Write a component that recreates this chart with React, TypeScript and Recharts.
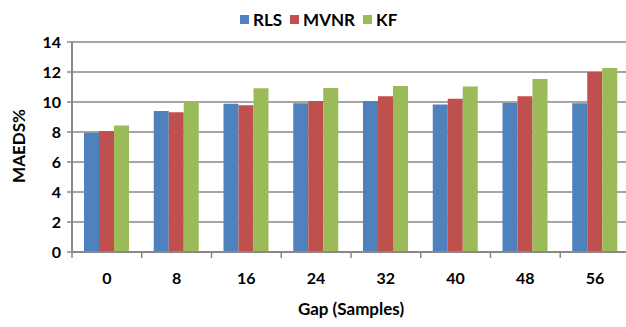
import { BarChart, Bar, XAxis, YAxis, CartesianGrid } from 'recharts'

const gaps = ['0', '8', '16', '24', '32', '40', '48', '56']
const rls = [7.95, 9.4, 9.89, 9.91, 10.07, 9.84, 9.93, 9.91]
const mvnr = [8.07, 9.31, 9.78, 10.07, 10.38, 10.22, 10.38, 12.0]
const kf = [8.44, 9.99, 10.91, 10.93, 11.07, 11.04, 11.53, 12.27]
const yTicks = [0, 2, 4, 6, 8, 10, 12, 14]

const SERIES = [
  { key: 'RLS', values: rls, color: '#4F81BD' },
  { key: 'MVNR', values: mvnr, color: '#C0504D' },
  { key: 'KF', values: kf, color: '#9BBB59' },
]

const FONT = 'Lato, "Open Sans", sans-serif'
const GRAY = '#888888'
const X_TICK_MARGIN = 21

const data = gaps.map((gap, i) => ({
  gap,
  RLS: rls[i],
  MVNR: mvnr[i],
  KF: kf[i],
}))

// label at the center, tick mark on the left boundary (excel style)
function GapTick(props: any) {
  const { x, y, payload } = props
  const half = payload && payload.offset ? payload.offset : 34.875
  const axisY = y - X_TICK_MARGIN
  return (
    <g>
      <line x1={x - half} x2={x - half} y1={axisY} y2={axisY + 6} stroke={GRAY} strokeWidth={1.5} />
      <text
        x={x}
        y={y}
        dy="0.71em"
        textAnchor="middle"
        style={{ fill: '#000', fontFamily: FONT, fontWeight: 700, fontSize: 16 }}
      >
        {payload.value}
      </text>
    </g>
  )
}

function ChartLegend() {
  return (
    <div
      style={{
        position: 'absolute',
        top: 9,
        left: 240,
        display: 'flex',
        alignItems: 'center',
        fontFamily: FONT,
        fontWeight: 700,
        fontSize: 17,
        color: '#000',
      }}
    >
      {SERIES.map((s) => (
        <div key={s.key} style={{ display: 'flex', alignItems: 'center', marginRight: 8 }}>
          <span style={{ width: 9, height: 9, background: s.color, marginRight: 4, display: 'inline-block' }} />
          <span>{s.key}</span>
        </div>
      ))}
    </div>
  )
}

export default function App() {
  return (
    <div style={{ position: 'absolute', left: 0, top: 0, width: 626, height: 327, overflow: 'hidden', background: '#fff' }}>
      <ChartLegend />
      <BarChart
        width={632}
        height={327}
        data={data}
        margin={{ top: 42, right: 2, bottom: 0, left: 0 }}
        barCategoryGap={12}
        barGap={0}
      >
        <CartesianGrid vertical={false} stroke={GRAY} strokeWidth={1.5} />
        <XAxis
          dataKey="gap"
          tickLine={false}
          axisLine={{ stroke: GRAY, strokeWidth: 2 }}
          tickSize={0}
          tickMargin={X_TICK_MARGIN}
          tick={<GapTick />}
          height={75}
          label={{
            value: 'Gap (Samples)',
            position: 'insideBottom',
            offset: 12,
            style: { fill: '#000', fontFamily: FONT, fontWeight: 700, fontSize: 17 },
          }}
        />
        <YAxis
          domain={[0, 14]}
          ticks={yTicks}
          width={72}
          tickSize={5}
          tickMargin={6}
          axisLine={{ stroke: GRAY, strokeWidth: 2 }}
          tickLine={{ stroke: GRAY, strokeWidth: 1.5 }}
          tick={{ fill: '#000', fontFamily: FONT, fontWeight: 700, fontSize: 16 }}
          label={{
            content: () => (
              <text
                x={18}
                y={146}
                transform="rotate(-90 18 146)"
                textAnchor="middle"
                dominantBaseline="central"
                style={{ fill: '#000', fontFamily: FONT, fontWeight: 700, fontSize: 17 }}
              >
                MAEDS%
              </text>
            ),
          }}
        />
        {SERIES.map((s) => (
          <Bar key={s.key} dataKey={s.key} fill={s.color} isAnimationActive={false} />
        ))}
      </BarChart>
    </div>
  )
}
